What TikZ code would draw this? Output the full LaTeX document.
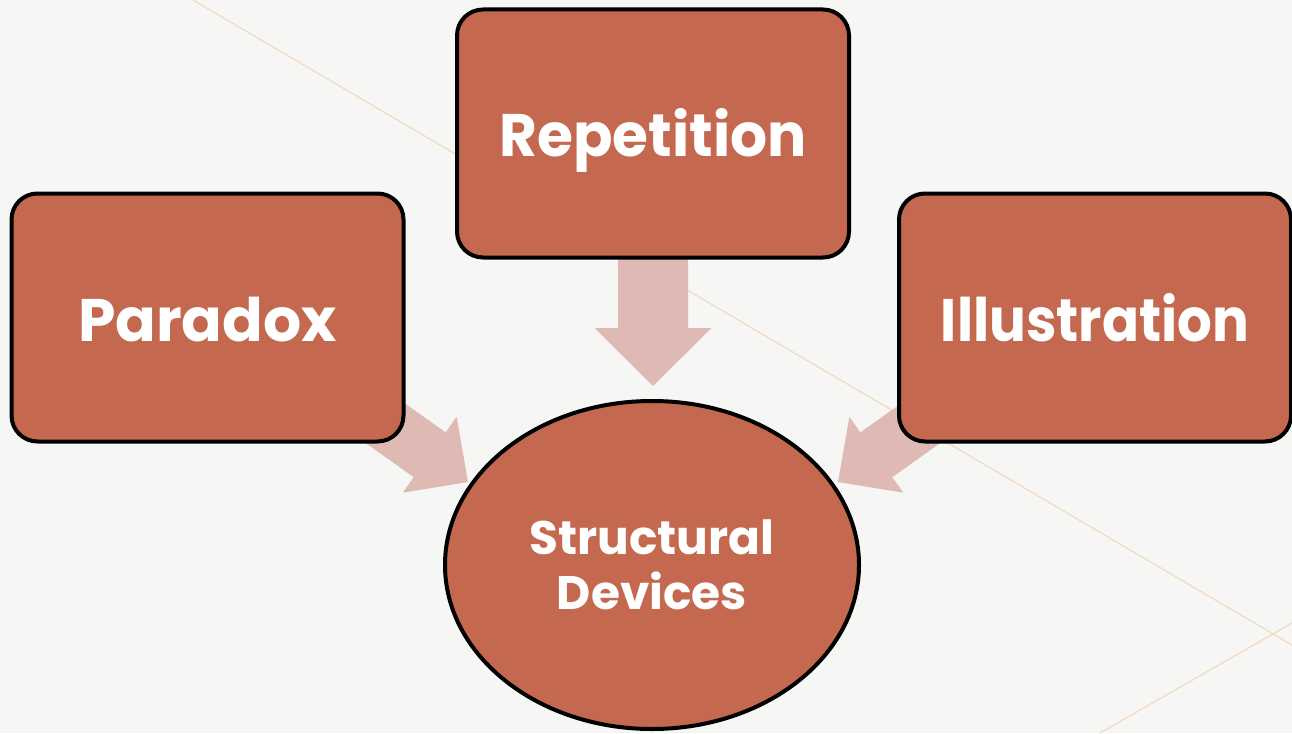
\documentclass[tikz,border=0pt]{standalone}
\usepackage{fontspec}
\setmainfont{Poppins}
\usetikzlibrary{shapes.geometric}
\definecolor{boxfill}{HTML}{C4694F}
\definecolor{arrowfill}{HTML}{DFB9B3}
\definecolor{bgfill}{HTML}{F6F6F4}
\definecolor{linetint}{HTML}{F3D9BD}
\tikzset{
  device/.style={draw=black, line width=4pt, fill=boxfill, text=white,
    rounded corners=26pt, minimum width=392pt, minimum height=248pt,
    inner sep=0pt, text height=47pt, text depth=0pt,
    font=\bfseries\fontsize{60}{72}\selectfont},
  hub/.style={ellipse, draw=black, line width=4pt, fill=boxfill, text=white,
    minimum width=414pt, minimum height=328pt, inner sep=0pt, align=center,
    font=\bfseries\fontsize{47}{55}\selectfont},
  blockarrow/.style={fill=arrowfill, draw=none},
  guide/.style={draw=linetint, line width=1.2pt}
}
% block arrow pointing along +x with its tip at the origin
% #1 shaft width, #2 head width, #3 head length, #4 total length
\newcommand{\blockarrowpath}[4]{%
  (0,0) -- (-#3,#2/2) -- (-#3,#1/2) -- (-#4,#1/2) -- (-#4,-#1/2)
  -- (-#3,-#1/2) -- (-#3,-#2/2) -- cycle}
\begin{document}
\begin{tikzpicture}[x=1pt,y=-1pt]
  % background
  \fill[bgfill] (0,0) rectangle (1292,733);
  \useasboundingbox (0,0) rectangle (1292,733);
  \coordinate (g1) at (193,0);
  \coordinate (g2) at (1292,645);
  \coordinate (g3) at (1100,733);
  \coordinate (g4) at (1292,623);
  \draw[guide] (g1) -- (g2);
  \draw[guide] (g3) -- (g4);

  % arrow tips on the hub
  \coordinate (tipTop) at (653,386);
  \coordinate (tipLeft) at (468,482);
  \coordinate (tipRight) at (838,482);

  % arrows (drawn first so the boxes cover their tails)
  \begin{scope}[shift={(tipTop)}, rotate=-90]
    \fill[blockarrow] \blockarrowpath{70}{117}{58}{150};
  \end{scope}
  \begin{scope}[shift={(tipLeft)}, rotate=-35.4]
    \fill[blockarrow] \blockarrowpath{55}{93}{47}{130};
  \end{scope}
  \begin{scope}[shift={(tipRight)}, rotate=215.4]
    \fill[blockarrow] \blockarrowpath{55}{93}{47}{130};
  \end{scope}

  % nodes
  \node[device] (paradox) at (207.5,317.5) {Paradox};
  \node[device] (repetition) at (653,133.5) {\scalebox{0.97}[1]{Repetition}};
  \node[device] (illustration) at (1095,317.5) {\scalebox{0.91}[1]{Illustration}};
  \node[hub] (structural) at (652,565) {Structural\\Devices};
\end{tikzpicture}
\end{document}
